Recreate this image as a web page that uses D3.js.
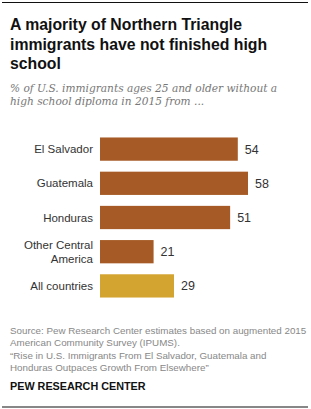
<!DOCTYPE html>
<html>
<head>
<meta charset="utf-8">
<script src="https://cdn.jsdelivr.net/npm/d3@7"></script>
<style>
  body { margin: 0; background: #fff; }
  svg { display: block; }
</style>
</head>
<body>
<svg id="chart" width="311" height="409"></svg>
<script>
const categories = ["El Salvador", "Guatemala", "Honduras", "Other Central America", "All countries"];
const categoryLines = [["El Salvador"], ["Guatemala"], ["Honduras"], ["Other Central", "America"], ["All countries"]];
const values = [54, 58, 51, 21, 29];
const titleLines = ["A majority of Northern Triangle", "immigrants have not finished high", "school"];
const subtitleLines = ["% of U.S. immigrants ages 25 and older without a", "high school diploma in 2015 from ..."];
const sourceLines = [
  "Source: Pew Research Center estimates based on augmented 2015",
  "American Community Survey (IPUMS).",
  "\u201cRise in U.S. Immigrants From El Salvador, Guatemala and",
  "Honduras Outpaces Growth From Elsewhere\u201d"
];

const svg = d3.select("#chart");

const sans = "'Liberation Sans', Arial, sans-serif";

// rules top and bottom
svg.append("line").attr("x1", 2).attr("x2", 308).attr("y1", 2.5).attr("y2", 2.5)
  .attr("stroke", "#111").attr("stroke-width", 1.2);
svg.append("line").attr("x1", 2).attr("x2", 308).attr("y1", 407).attr("y2", 407)
  .attr("stroke", "#111").attr("stroke-width", 1.2);

// title
svg.append("g").selectAll("text").data(titleLines).join("text")
  .attr("x", 10).attr("y", (d, i) => 30 + i * 19.5)
  .attr("font-family", sans).attr("font-weight", "bold").attr("font-size", 15.8)
  .attr("fill", "#111")
  .text(d => d);

// subtitle
svg.append("g").selectAll("text").data(subtitleLines).join("text")
  .attr("x", 10).attr("y", (d, i) => 92 + i * 13)
  .attr("font-family", "'DejaVu Serif', Georgia, serif").attr("font-style", "italic")
  .attr("font-size", 10.6).attr("fill", "#777")
  .text(d => d);

// bars
const x = d3.scaleLinear().domain([0, 58]).range([100, 248]);
const y = d3.scaleBand().domain(categories).range([132, 303]).paddingInner(0.32).paddingOuter(0.16);

const chart = svg.append("g");

chart.selectAll("rect").data(categories).join("rect")
  .attr("x", x(0))
  .attr("y", d => y(d))
  .attr("width", (d, i) => x(values[i]) - x(0))
  .attr("height", y.bandwidth())
  .attr("fill", d => d === "All countries" ? "#d3a530" : "#a65a25");

chart.selectAll("text.value").data(categories).join("text")
  .attr("class", "value")
  .attr("x", (d, i) => x(values[i]) + 7)
  .attr("y", d => y(d) + y.bandwidth() / 2 + 4.5)
  .attr("font-family", sans).attr("font-size", 12.5).attr("fill", "#333")
  .text((d, i) => values[i]);

const labels = chart.selectAll("text.cat").data(categories).join("text")
  .attr("class", "cat")
  .attr("text-anchor", "end")
  .attr("font-family", sans).attr("font-size", 11.5).attr("fill", "#333");

labels.each(function(d, i) {
  const lines = categoryLines[i];
  const cy = y(d) + y.bandwidth() / 2;
  d3.select(this).selectAll("tspan").data(lines).join("tspan")
    .attr("x", 93)
    .attr("y", (l, j) => cy + 4 + (j - (lines.length - 1) / 2) * 14)
    .text(l => l);
});

// source
svg.append("g").selectAll("text").data(sourceLines).join("text")
  .attr("x", 10).attr("y", (d, i) => 334 + i * 12.3)
  .attr("font-family", sans).attr("font-size", 9.8).attr("fill", "#888")
  .text(d => d);

svg.append("text")
  .attr("x", 10).attr("y", 390)
  .attr("font-family", sans).attr("font-weight", "bold").attr("font-size", 10.8)
  .attr("fill", "#111")
  .text("PEW RESEARCH CENTER");
</script>
</body>
</html>
